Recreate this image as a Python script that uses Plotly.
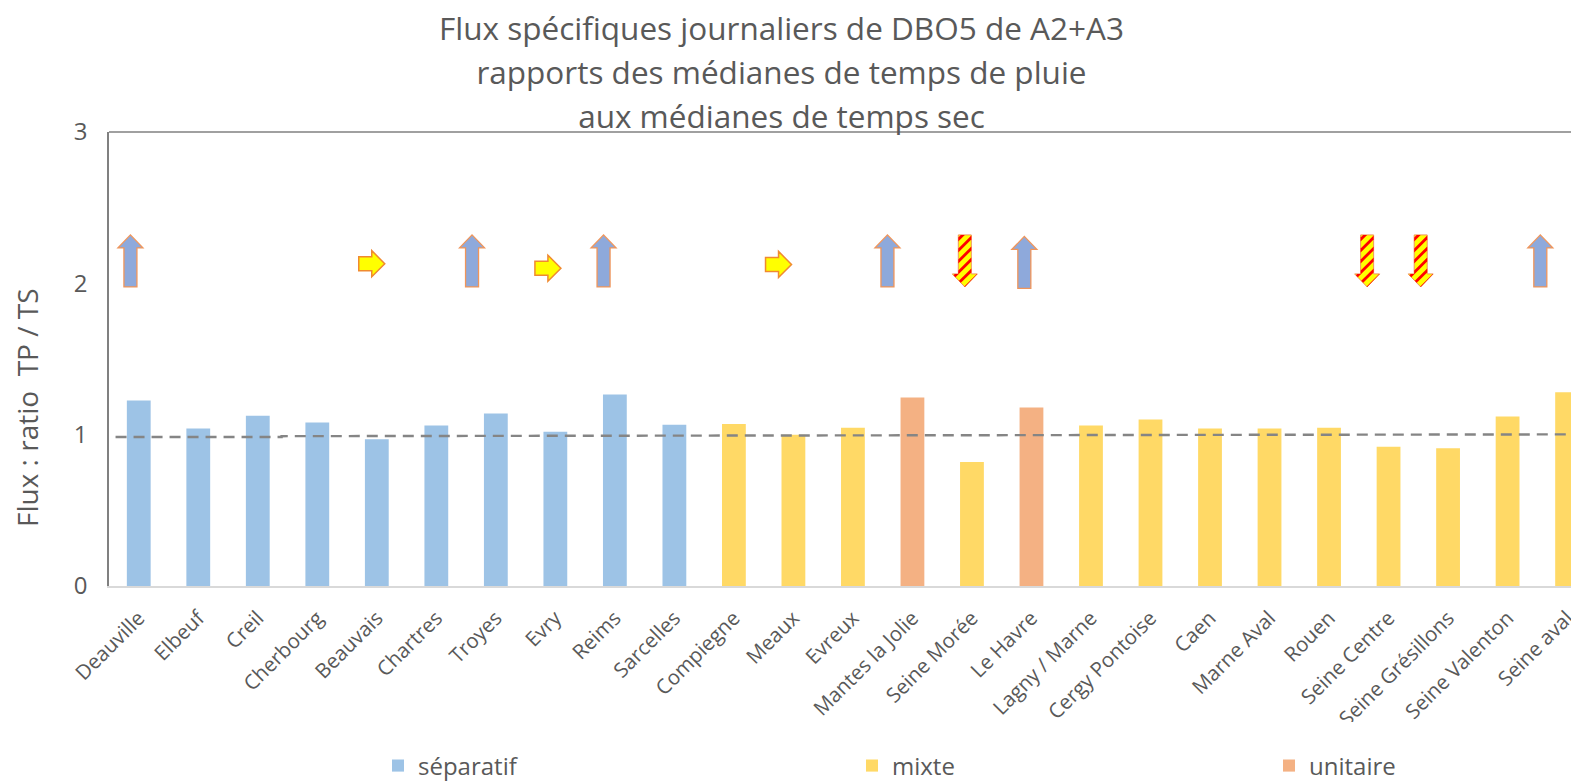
import plotly.graph_objects as go

# ---------- data ----------
categories = ["Deauville", "Elbeuf", "Creil", "Cherbourg", "Beauvais", "Chartres", "Troyes", "Evry",
              "Reims", "Sarcelles", "Compiegne", "Meaux", "Evreux", "Mantes la Jolie", "Seine Morée",
              "Le Havre", "Lagny / Marne", "Cergy Pontoise", "Caen", "Marne Aval", "Rouen",
              "Seine Centre", "Seine Grésillons", "Seine Valenton", "Seine aval"]
values = [1.225, 1.04, 1.125, 1.08, 0.97, 1.06, 1.14, 1.02, 1.265, 1.065, 1.07, 1.0, 1.045, 1.245,
          0.82, 1.18, 1.06, 1.10, 1.04, 1.04, 1.045, 0.92, 0.91, 1.12, 1.28]
network = ["séparatif"] * 10 + ["mixte"] * 3 + ["unitaire", "mixte", "unitaire"] + ["mixte"] * 9

ref_x = [-0.39, 2.4, 2.4, 23.0, 23.0, 24.2]
ref_y = [0.985, 0.985, 0.99, 0.998, 1.002, 1.002]

up_x = [-0.14, 5.60, 7.81, 12.58, 14.88, 23.55]
up_y = [2.32, 2.32, 2.32, 2.32, 2.31, 2.32]
down_x = [13.88, 20.64, 21.54]
down_y = [2.32, 2.32, 2.32]
right_x = [3.915, 6.875, 10.75]
right_y = [2.13, 2.10, 2.125]

yticks = [0, 1, 2, 3]
title_lines = ["Flux spécifiques journaliers de DBO5 de A2+A3",
               "rapports des médianes de temps de pluie",
               "aux médianes de temps sec"]
y_title = "Flux : ratio  TP / TS"

# ---------- styles ----------
FONT = "Open Sans"
GREY = "#595959"
FIG_W, FIG_H = 1571, 773  # the page keeps an 8px body margin
PLOT_W, PLOT_H = 1470, 454
colors = {"séparatif": "#9DC3E6", "mixte": "#FFD966", "unitaire": "#F4B183"}
legend_ids = {"séparatif": "legend", "mixte": "legend2", "unitaire": "legend3"}
legend_x = {"séparatif": 370 / FIG_W, "mixte": 844 / FIG_W, "unitaire": 1261 / FIG_W}
ARROW_LINE = "#F0955A"


def clip(poly, a, b, c):
    """Keep the part of poly where a*x + b*y <= c."""
    out = []
    for i, p in enumerate(poly):
        q = poly[(i + 1) % len(poly)]
        dp, dq = a * p[0] + b * p[1] - c, a * q[0] + b * q[1] - c
        if dp <= 0:
            out.append(p)
        if dp * dq < 0:
            t = dp / (dp - dq)
            out.append((p[0] + t * (q[0] - p[0]), p[1] + t * (q[1] - p[1])))
    return out


def path(poly):
    return "M" + " L".join(f"{x:.2f},{y:.2f}" for x, y in poly) + " Z"


def shape(x, y, d, fill, line=None, width=0):
    return dict(type="path", xref="x", yref="y", xsizemode="pixel", ysizemode="pixel",
                xanchor=x, yanchor=y, path=d, fillcolor=fill, layer="above",
                line=dict(color=line or fill, width=width))


shapes = []
# arrow outlines in pixels around their anchor, positive y pointing up
UP = [(0, 0), (12.5, -13), (6.5, -13), (6.5, -52), (-6.5, -52), (-6.5, -13), (-12.5, -13)]
DOWN = [(0, -52), (12.5, -39), (6.5, -39), (6.5, 0), (-6.5, 0), (-6.5, -39), (-12.5, -39)]
RIGHT = [(13, 0), (0, 13), (0, 7), (-13, 7), (-13, -7), (0, -7), (0, -13)]

for x, y in zip(up_x, up_y):
    shapes.append(shape(x, y, path(UP), "#8EA9DB", ARROW_LINE, 1.3))

for x, y in zip(down_x, down_y):
    shapes.append(shape(x, y, path(DOWN), "#FFFF00", ARROW_LINE, 1))
    for k in range(-2, 8):
        # diagonal red band rising to the right
        s = clip(clip(DOWN, -1, 1, -k * 11 + 4), 1, -1, k * 11)
        if len(s) > 2:
            shapes.append(shape(x, y, path(s), "#FF0000"))

for x, y in zip(right_x, right_y):
    shapes.append(shape(x, y, path(RIGHT), "#FFFF00", "#F08A30", 1.5))

# top border of the plot frame
shapes.append(dict(type="line", xref="paper", yref="paper", x0=0, x1=1, y0=1, y1=1,
                   line=dict(color="#808080", width=1.5), layer="above"))
# clips the lowest tick labels as in the source picture
shapes.append(dict(type="rect", xref="paper", yref="paper", x0=0, x1=1, y0=-0.357, y1=-0.2996,
                   fillcolor="white", line=dict(width=0), layer="above"))

fig = go.Figure()
for kind in ["séparatif", "mixte", "unitaire"]:
    idx = [i for i, n in enumerate(network) if n == kind]
    fig.add_bar(x=idx, y=[values[i] for i in idx], name=kind, width=0.4,
                marker=dict(color=colors[kind], line=dict(width=0)),
                legend=legend_ids[kind])
fig.add_scatter(x=ref_x, y=ref_y, mode="lines", showlegend=False,
                line=dict(color="#858585", width=2.4, dash="11px,7px"))

legend_common = dict(orientation="h", xref="container", yref="container", yanchor="middle",
                     y=1 - 758 / FIG_H, xanchor="left",
                     font=dict(family=FONT, size=24, color=GREY), bgcolor="rgba(0,0,0,0)")
layout_legends = {legend_ids[k]: dict(legend_common, x=legend_x[k]) for k in colors}

fig.update_layout(
    width=FIG_W, height=FIG_H, autosize=False,
    margin=dict(l=101, r=0, t=124, b=FIG_H - 124 - PLOT_H),
    plot_bgcolor="white", paper_bgcolor="white",
    barmode="overlay", shapes=shapes,
    font=dict(family=FONT, color=GREY),
    title=dict(text="<br>".join(f'<span style="font-size:31.5px">{t}</span>' for t in title_lines),
               font=dict(family=FONT, size=33.8, color=GREY), automargin=False,
               x=773.5 / FIG_W, xanchor="center", y=1 - 32 / FIG_H, yanchor="top"),
    xaxis=dict(range=[-0.5, 24.2], tickmode="array", tickvals=list(range(len(categories))),
               ticktext=categories, tickangle=-45, showgrid=False, zeroline=False, automargin=False,
               showline=True, linecolor="#D9D9D9", linewidth=2, ticks="", ticklabelstandoff=10,
               tickfont=dict(family=FONT, size=20.5, color=GREY)),
    yaxis=dict(range=[0, 3], tickmode="array", tickvals=yticks, showgrid=False, zeroline=False,
               automargin=False, showline=True, linecolor="#808080", linewidth=1.5, ticks="",
               ticklabelstandoff=15,
               tickfont=dict(family=FONT, size=24, color=GREY)),
    annotations=[dict(text=y_title, textangle=-90, showarrow=False, xref="paper", yref="paper",
                      x=(19 - 101) / PLOT_W, y=(578 - 400) / PLOT_H, xanchor="center", yanchor="middle",
                      font=dict(family=FONT, size=28, color=GREY))],
    **layout_legends,
)
fig.write_html("out.html")
